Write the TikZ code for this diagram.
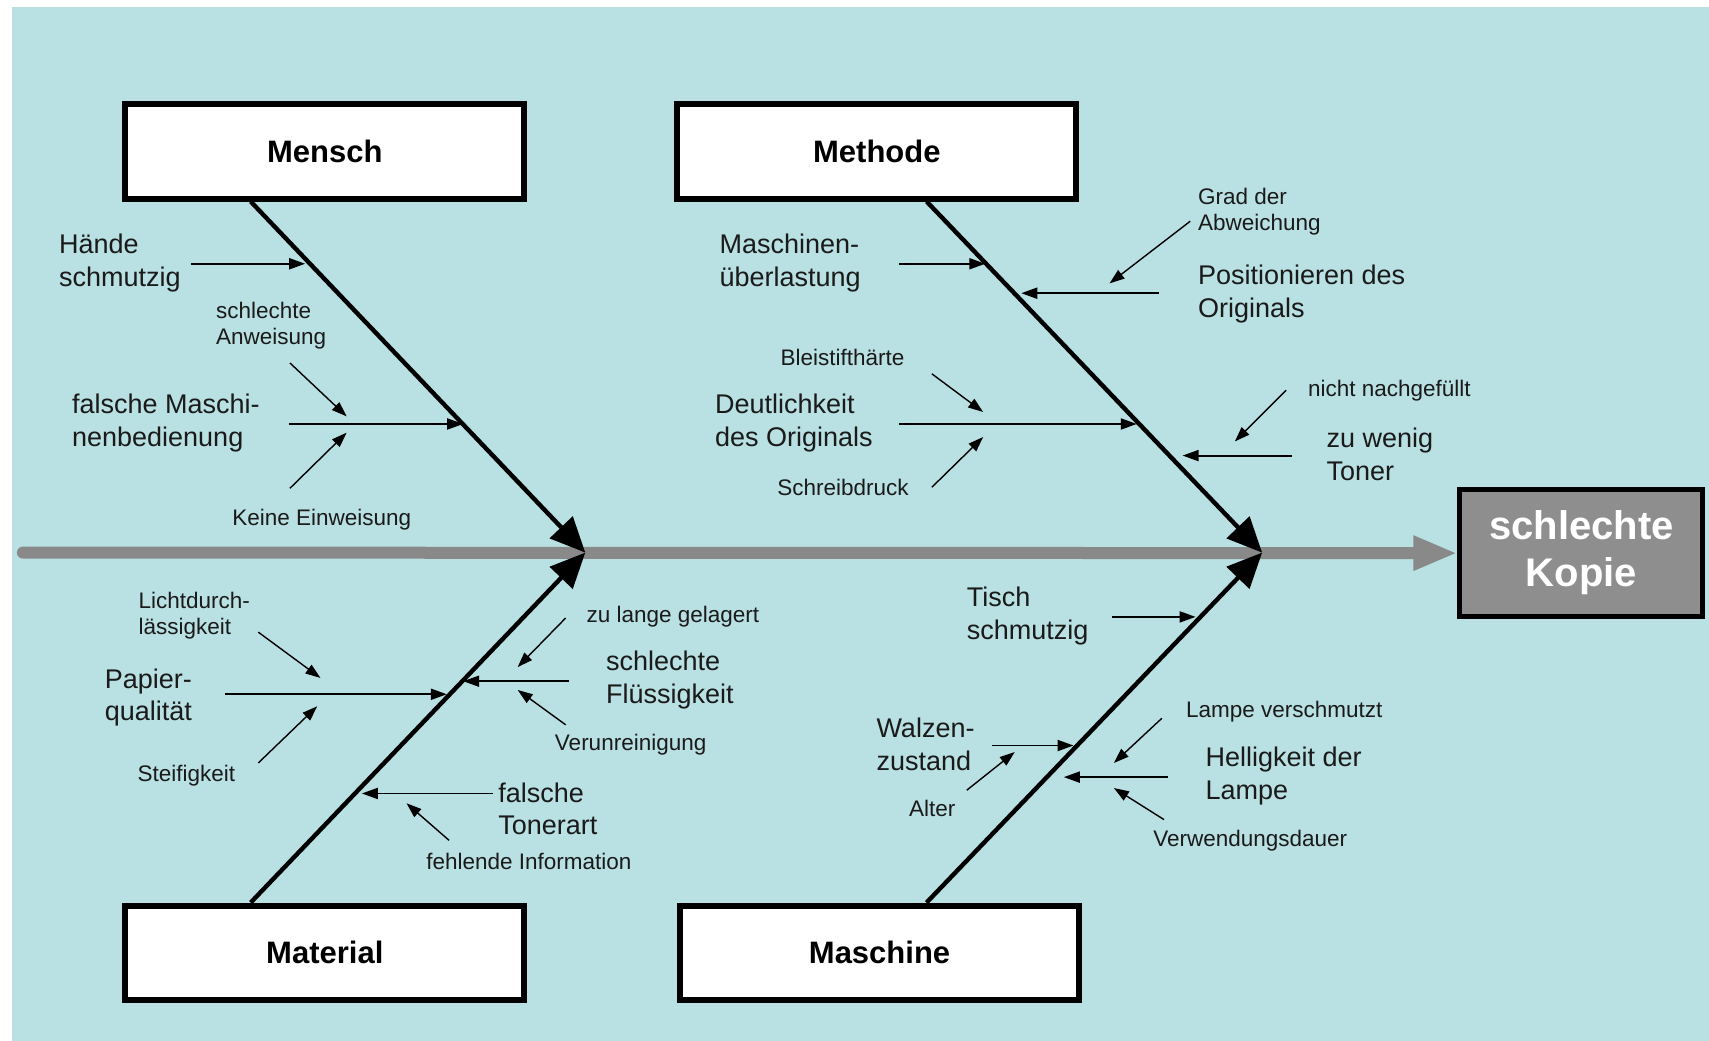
\documentclass[tikz,border=0pt]{standalone}
\usepackage{fontspec}
\setmainfont{Liberation Sans}
\usetikzlibrary{arrows.meta,calc}
\definecolor{bgblue}{HTML}{B9E0E2}
\definecolor{spinegray}{HTML}{898989}
\definecolor{effectgray}{HTML}{8E8E8E}
\definecolor{ink}{HTML}{1A1A1A}

\begin{document}
\begin{tikzpicture}[x=1.0899pt,y=-1.0899pt,
  cat/.style={draw=black,line width=6pt,fill=white,minimum width=399pt,
    minimum height=94pt,inner sep=0pt,font=\fontsize{31}{36}\selectfont\bfseries},
  cause/.style={anchor=west,inner sep=0pt,align=left,text=ink,
    font=\fontsize{27}{32.7}\selectfont},
  sub/.style={anchor=west,inner sep=0pt,align=left,text=ink,
    font=\fontsize{22.5}{26}\selectfont},
  bone/.style={line width=4.4pt,-{Triangle[length=35pt,width=31pt]}},
  twig/.style={line width=1.9pt,-{Triangle[length=16pt,width=11pt]}},
  leaf/.style={line width=1.4pt,-{Triangle[length=15pt,width=10.5pt]}},
]
% page and background
\useasboundingbox (0,0) rectangle (1568,955);
\fill[white] (0,0) rectangle (1568,955);
\fill[bgblue] (11,6.5) rectangle (1568,955);

% category boxes and effect
\node[cat] (mensch)   at (298,139) {Mensch};
\node[cat] (methode)  at (804.5,139) {Methode};
\node[cat] (material) at (298,874) {Material};
\node[cat] (maschine) at (807,874) {Maschine};
\node[draw=black,line width=5pt,fill=effectgray,minimum width=243pt,
  minimum height=127pt,inner sep=0pt,align=center,text=white,
  font=\fontsize{40}{47}\selectfont\bfseries] (effect) at (1451,507.5)
  {schlechte\\Kopie};

% spine
\coordinate (tail) at (21,507);
\coordinate (j1) at (537,507);
\coordinate (j2) at (1158,507);
\draw[spinegray,line width=12pt,line cap=round,
  -{Triangle[length=44pt,width=32pt]}] (tail) -- (effect.west);

% main bones
\coordinate (mb) at ($(mensch.south west)!0.317!(mensch.south east)$);
\coordinate (tb) at ($(methode.south west)!0.623!(methode.south east)$);
\coordinate (lb) at ($(material.north west)!0.317!(material.north east)$);
\coordinate (sb) at ($(maschine.north west)!0.616!(maschine.north east)$);
\draw[bone] (mb) -- (j1);
\draw[bone] (lb) -- (j1);
\draw[bone] (tb) -- (j2);
\draw[bone] (sb) -- (j2);

% ---------- Mensch ----------
\node[cause] (haende) at (54,241) {Hände\\schmutzig};
\coordinate (haendeA) at (175,242); \coordinate (haendeB) at (280,242);
\draw[twig] (haendeA) -- (haendeB);
\node[sub] (anw) at (198,299) {schlechte\\Anweisung};
\coordinate (anwA) at (266,333); \coordinate (anwB) at (318,382);
\draw[leaf] (anwA) -- (anwB);
\node[cause] (bedien) at (66,388) {falsche Maschi-\\nenbedienung};
\coordinate (bedienA) at (265,389); \coordinate (bedienB) at (425,389);
\draw[twig] (bedienA) -- (bedienB);
\node[sub] (einw) at (213,477) {Keine Einweisung};
\coordinate (einwA) at (266,448); \coordinate (einwB) at (318,397);
\draw[leaf] (einwA) -- (einwB);

% ---------- Methode ----------
\node[cause] (ueber) at (660,241) {Maschinen-\\überlastung};
\coordinate (ueberA) at (825,242); \coordinate (ueberB) at (904,242);
\draw[twig] (ueberA) -- (ueberB);
\node[sub] (grad) at (1099,194) {Grad der\\Abweichung};
\coordinate (gradA) at (1092,203); \coordinate (gradB) at (1018,260);
\draw[leaf] (gradA) -- (gradB);
\node[cause] (posi) at (1099,270) {Positionieren des\\Originals};
\coordinate (posiA) at (1063,269); \coordinate (posiB) at (937,269);
\draw[twig] (posiA) -- (posiB);
\node[sub] (blei) at (716,328) {Bleistifthärte};
\coordinate (bleiA) at (855,343); \coordinate (bleiB) at (902,378);
\draw[leaf] (bleiA) -- (bleiB);
\node[cause] (deut) at (656,388) {Deutlichkeit\\des Originals};
\coordinate (deutA) at (825,389); \coordinate (deutB) at (1043,389);
\draw[twig] (deutA) -- (deutB);
\node[sub] (schreib) at (713,447) {Schreibdruck};
\coordinate (schreibA) at (855,447); \coordinate (schreibB) at (902,401);
\draw[leaf] (schreibA) -- (schreibB);
\node[sub] (nach) at (1200,358) {nicht nachgefüllt};
\coordinate (nachA) at (1180,358); \coordinate (nachB) at (1133,405);
\draw[leaf] (nachA) -- (nachB);
\node[cause] (toner) at (1217,417) {zu wenig\\Toner};
\coordinate (tonerA) at (1185,418); \coordinate (tonerB) at (1085,418);
\draw[twig] (tonerA) -- (tonerB);

% ---------- Material ----------
\node[sub] (licht) at (127,565) {Lichtdurch-\\lässigkeit};
\coordinate (lichtA) at (237,580); \coordinate (lichtB) at (294,622);
\draw[leaf] (lichtA) -- (lichtB);
\node[cause] (papier) at (96,640) {Papier-\\qualität};
\coordinate (papierA) at (206,637); \coordinate (papierB) at (410,637);
\draw[twig] (papierA) -- (papierB);
\node[sub] (steif) at (126,712) {Steifigkeit};
\coordinate (steifA) at (237,700); \coordinate (steifB) at (291,648);
\draw[leaf] (steifA) -- (steifB);
\node[sub] (lange) at (538,566) {zu lange gelagert};
\coordinate (langeA) at (519,567); \coordinate (langeB) at (475,612);
\draw[leaf] (langeA) -- (langeB);
\node[cause] (fluess) at (556,624) {schlechte\\Flüssigkeit};
\coordinate (fluessA) at (522,625); \coordinate (fluessB) at (425,625);
\draw[twig] (fluessA) -- (fluessB);
\node[sub] (verun) at (509,683) {Verunreinigung};
\coordinate (verunA) at (519,665); \coordinate (verunB) at (475,633);
\draw[leaf] (verunA) -- (verunB);
\node[cause] (tonart) at (457,742) {falsche\\Tonerart};
\coordinate (tonartA) at (452,728); \coordinate (tonartB) at (332,728);
\draw[twig] (tonartA) -- (tonartB);
\node[sub] (info) at (391,790) {fehlende Information};
\coordinate (infoA) at (412,771); \coordinate (infoB) at (373,737);
\draw[leaf] (infoA) -- (infoB);

% ---------- Maschine ----------
\node[cause] (tisch) at (887,565) {Tisch\\schmutzig};
\coordinate (tischA) at (1020,566); \coordinate (tischB) at (1097,566);
\draw[twig] (tischA) -- (tischB);
\node[cause] (walzen) at (804,683) {Walzen-\\zustand};
\coordinate (walzenA) at (910,684); \coordinate (walzenB) at (985,684);
\draw[twig] (walzenA) -- (walzenB);
\node[sub] (alter) at (834,742) {Alter};
\coordinate (alterA) at (887,725); \coordinate (alterB) at (931,690);
\draw[leaf] (alterA) -- (alterB);
\node[sub] (lampv) at (1088,653) {Lampe verschmutzt};
\coordinate (lampvA) at (1066,659); \coordinate (lampvB) at (1022,700);
\draw[leaf] (lampvA) -- (lampvB);
\node[cause] (hell) at (1106,712) {Helligkeit der\\Lampe};
\coordinate (hellA) at (1072,713); \coordinate (hellB) at (976,713);
\draw[twig] (hellA) -- (hellB);
\node[sub] (dauer) at (1058,771) {Verwendungsdauer};
\coordinate (dauerA) at (1068,752); \coordinate (dauerB) at (1022,723);
\draw[leaf] (dauerA) -- (dauerB);
\end{tikzpicture}
\end{document}
